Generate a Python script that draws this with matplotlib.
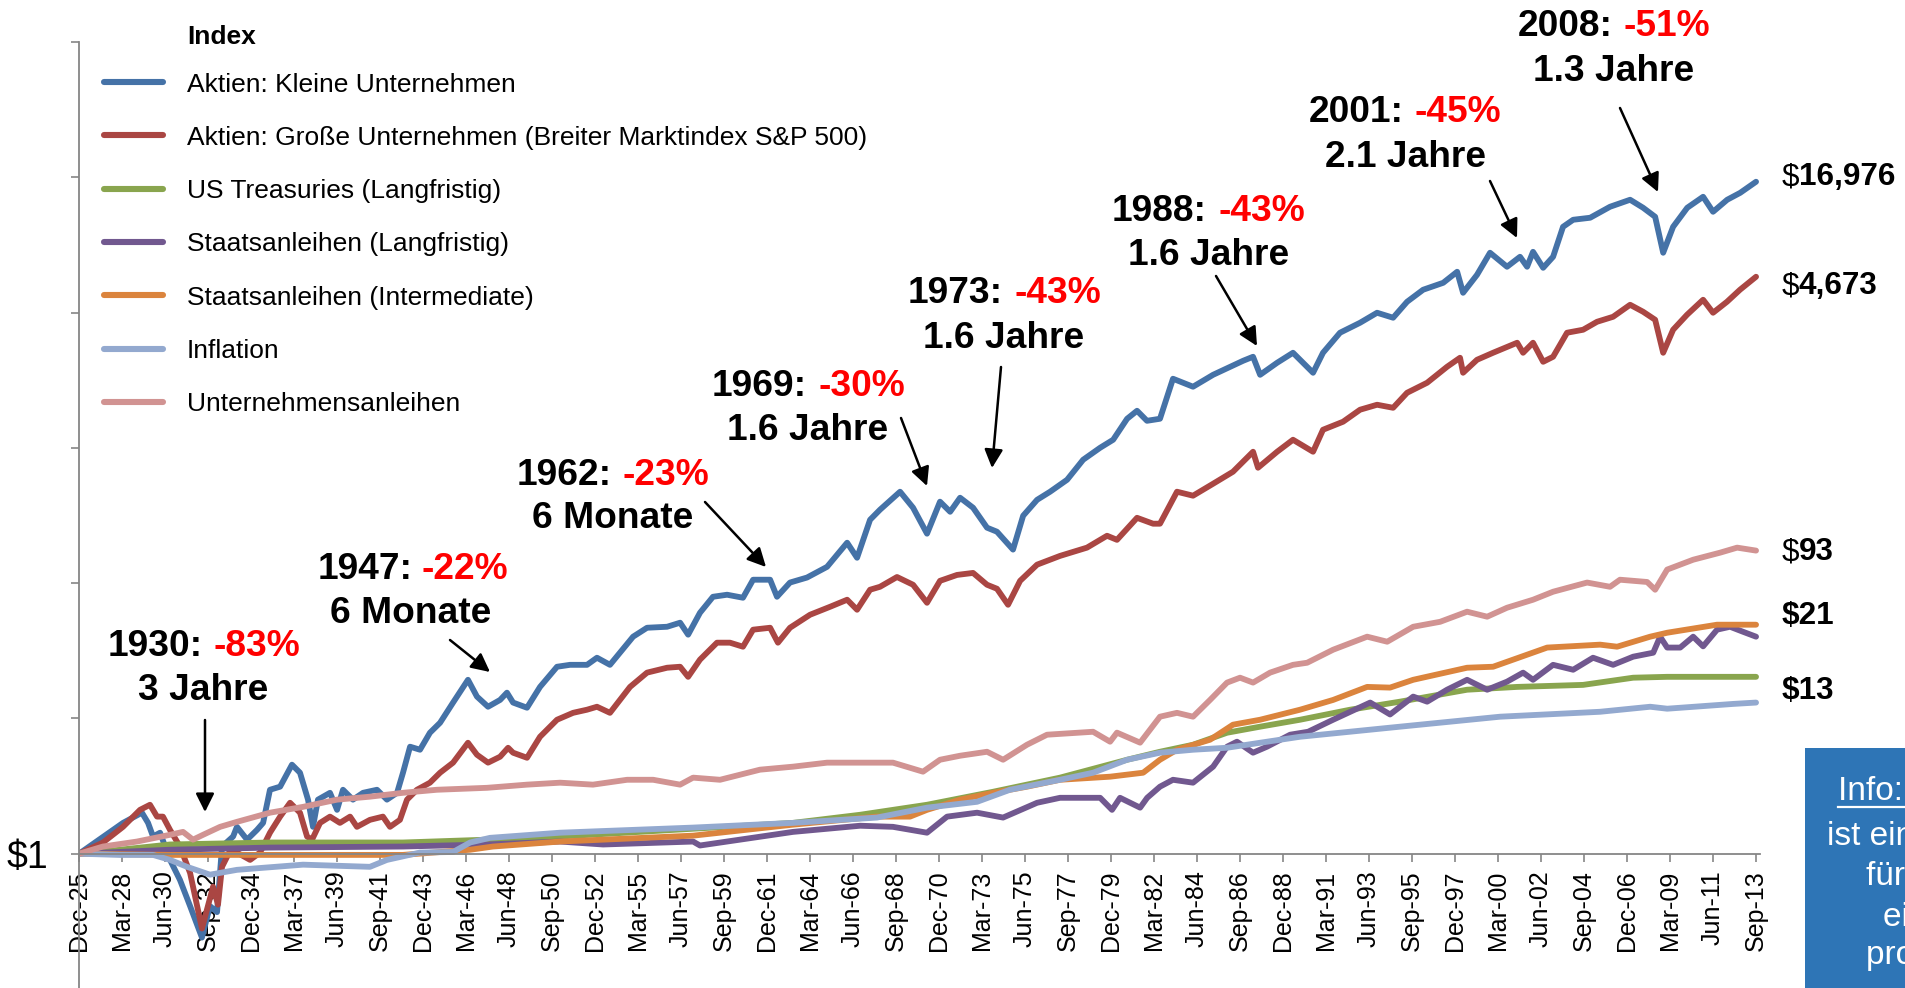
import matplotlib
matplotlib.use("Agg")
import matplotlib.pyplot as plt
from matplotlib.lines import Line2D
from matplotlib.patches import Rectangle, FancyArrowPatch
import matplotlib.ticker as mticker

plt.rcParams['font.family'] = ['Liberation Sans', 'DejaVu Sans']

W, H = 1906, 988

# ---------------- data (decimal year, growth of $1) ----------------
small_caps = [(1925.92, 1.00), (1928.22, 1.69), (1929.21, 2.01), (1929.53, 1.69), (1929.79, 1.34),
    (1930.16, 1.43), (1930.68, 0.90), (1931.20, 0.64), (1931.73, 0.41), (1932.35, 0.24), (1932.77, 0.41),
    (1933.14, 0.37), (1933.40, 1.13), (1933.98, 1.34), (1934.18, 1.58), (1934.71, 1.27), (1935.23, 1.50),
    (1935.55, 1.69), (1935.91, 2.97), (1936.44, 3.13), (1937.06, 4.55), (1937.48, 3.97), (1937.90, 2.51),
    (1938.16, 1.58), (1938.42, 2.51), (1939.05, 2.82), (1939.42, 2.11), (1939.73, 2.97), (1940.25, 2.51),
    (1940.78, 2.82), (1941.51, 2.97), (1942.03, 2.51), (1942.56, 2.82), (1942.87, 3.97), (1943.24, 6.18),
    (1943.76, 5.87), (1944.28, 7.84), (1944.81, 9.29), (1945.49, 13.1), (1946.27, 19.3), (1946.74, 14.5),
    (1947.32, 12.2), (1947.95, 13.7), (1948.31, 15.5), (1948.63, 13.1), (1949.36, 12.0), (1950.04, 17.1),
    (1950.93, 24.1), (1951.61, 24.9), (1952.50, 24.9), (1953.02, 28.1), (1953.70, 24.9), (1954.91, 40.2),
    (1955.64, 46.8), (1956.69, 47.6), (1957.37, 51.0), (1957.79, 41.6), (1958.41, 60.4), (1959.09, 79.3),
    (1959.83, 82.1), (1960.66, 78.0), (1961.19, 106), (1962.08, 106), (1962.44, 79.3), (1963.12, 101),
    (1964.01, 110), (1965.06, 132), (1966.11, 199), (1966.63, 154), (1967.31, 294), (1967.83, 349),
    (1968.88, 474), (1969.56, 361), (1970.29, 232), (1970.97, 400), (1971.50, 337), (1972.02, 428),
    (1972.70, 361), (1973.43, 257), (1973.95, 240), (1974.79, 177), (1975.32, 315), (1976.05, 413),
    (1976.73, 474), (1977.62, 581), (1978.46, 817), (1979.35, 1002), (1980.03, 1148), (1980.76, 1641),
    (1981.28, 1880), (1981.80, 1585), (1982.48, 1641), (1983.16, 3243), (1984.21, 2831), (1985.26, 3468),
    (1986.15, 3973), (1986.83, 4402), (1987.35, 4714), (1987.72, 3468), (1988.61, 4256), (1989.44, 5046),
    (1990.49, 3590), (1991.01, 5046), (1991.90, 7096), (1992.95, 8410), (1993.84, 9970), (1994.68, 9160),
    (1995.41, 12020), (1996.25, 14750), (1997.30, 16600), (1998.03, 20030), (1998.34, 14000),
    (1999.07, 19020), (1999.75, 27680), (2000.64, 21810), (2001.32, 25850), (2001.69, 21810),
    (2002.00, 28130), (2002.53, 21430), (2003.05, 25850), (2003.57, 43050), (2004.10, 48530),
    (2004.99, 50230), (2006.03, 60560), (2007.08, 68230), (2007.76, 59540), (2008.39, 51060),
    (2008.81, 27680), (2009.33, 43050), (2010.07, 59540), (2010.90, 71780), (2011.42, 55590),
    (2012.16, 68230), (2012.84, 76760), (2013.67, 92700)]

large_caps = [(1925.92, 1.00), (1927.17, 1.21), (1928.22, 1.58), (1929.11, 2.11), (1929.63, 2.30),
    (1930.00, 1.88), (1930.31, 1.88), (1930.68, 1.50), (1931.20, 1.13), (1931.73, 0.72), (1932.35, 0.28),
    (1932.93, 0.57), (1933.19, 0.42), (1933.40, 0.80), (1933.82, 1.05), (1934.18, 1.02), (1934.87, 0.90),
    (1935.39, 1.02), (1935.91, 1.43), (1936.44, 1.88), (1936.96, 2.38), (1937.48, 2.01), (1937.85, 1.34),
    (1938.11, 1.27), (1938.53, 1.69), (1939.05, 1.88), (1939.57, 1.69), (1940.10, 1.88), (1940.46, 1.58),
    (1941.14, 1.78), (1941.82, 1.88), (1942.19, 1.58), (1942.71, 1.78), (1943.08, 2.51), (1943.60, 2.97),
    (1944.28, 3.35), (1944.81, 3.97), (1945.49, 4.71), (1946.27, 6.61), (1946.74, 5.39), (1947.32, 4.71),
    (1947.95, 5.21), (1948.37, 6.07), (1948.63, 5.58), (1949.36, 5.12), (1950.04, 7.32), (1950.93, 9.78),
    (1951.77, 11.0), (1952.50, 11.6), (1953.02, 12.2), (1953.70, 11.0), (1954.75, 17.1), (1955.64, 21.8),
    (1956.69, 23.7), (1957.37, 24.1), (1957.79, 20.3), (1958.41, 27.2), (1959.30, 36.3), (1959.98, 36.3),
    (1960.66, 33.9), (1961.19, 45.3), (1962.08, 46.8), (1962.49, 36.3), (1963.12, 46.8), (1964.17, 58.4),
    (1965.22, 66.9), (1966.11, 75.4), (1966.63, 63.6), (1967.31, 89.4), (1967.83, 94.0), (1968.72, 111),
    (1969.56, 97.3), (1970.29, 71.6), (1970.97, 104), (1971.86, 115), (1972.70, 119), (1973.43, 97.3),
    (1973.95, 90.9), (1974.53, 69.2), (1975.16, 104), (1976.05, 137), (1977.25, 159), (1978.66, 183),
    (1979.71, 224), (1980.23, 209), (1981.28, 304), (1982.12, 275), (1982.48, 275), (1983.37, 474),
    (1984.21, 443), (1985.26, 543), (1986.30, 666), (1987.35, 936), (1987.61, 713), (1988.61, 936),
    (1989.44, 1148), (1990.49, 936), (1991.01, 1361), (1992.06, 1560), (1992.95, 1914), (1993.84, 2083),
    (1994.68, 1978), (1995.41, 2554), (1996.46, 3030), (1997.50, 3973), (1998.18, 4634), (1998.34, 3590),
    (1999.07, 4478), (1999.91, 5046), (2001.17, 5984), (2001.48, 5046), (2002.00, 5984), (2002.53, 4327),
    (2003.05, 4714), (2003.78, 7096), (2004.62, 7466), (2005.35, 8550), (2006.19, 9310), (2007.08, 11420),
    (2007.76, 10140), (2008.39, 8850), (2008.81, 5046), (2009.33, 7466), (2010.06, 9640), (2010.90, 12440),
    (2011.42, 9970), (2012.15, 12020), (2012.83, 14750), (2013.67, 18400)]

treasuries = [(1925.92, 1.00), (1928.06, 1.07), (1930.68, 1.17), (1935.91, 1.21), (1942.87, 1.21),
    (1947.27, 1.27), (1951.09, 1.34), (1958.05, 1.53), (1963.28, 1.69), (1966.79, 1.94), (1970.29, 2.30),
    (1973.75, 2.87), (1977.25, 3.65), (1980.76, 4.95), (1982.48, 5.67), (1984.21, 6.39), (1985.99, 7.84),
    (1987.72, 8.69), (1989.81, 9.78), (1992.43, 11.6), (1995.04, 13.3), (1998.55, 16.3), (2001.17, 17.1),
    (2004.62, 17.7), (2007.24, 20.0), (2009.02, 20.3), (2013.67, 20.3)]

govt_long = [(1925.92, 1.00), (1930.68, 1.07), (1935.91, 1.11), (1942.87, 1.13), (1947.27, 1.17),
    (1951.09, 1.23), (1953.34, 1.17), (1958.05, 1.23), (1958.41, 1.15), (1963.28, 1.45), (1966.79, 1.61),
    (1968.51, 1.58), (1970.29, 1.43), (1971.34, 1.88), (1972.91, 2.01), (1974.27, 1.85), (1976.05, 2.38),
    (1977.25, 2.59), (1979.35, 2.59), (1979.97, 2.11), (1980.39, 2.59), (1981.44, 2.19), (1981.81, 2.59),
    (1982.48, 3.13), (1983.16, 3.52), (1984.21, 3.35), (1985.26, 4.40), (1985.99, 6.18), (1986.51, 6.73),
    (1987.35, 5.58), (1988.08, 6.18), (1989.29, 7.58), (1990.23, 7.97), (1991.54, 9.78), (1993.48, 13.1),
    (1994.52, 10.7), (1995.73, 14.5), (1996.46, 13.3), (1997.50, 16.3), (1998.55, 19.3), (1999.60, 16.3),
    (2000.64, 18.7), (2001.48, 21.8), (2002.00, 19.3), (2003.05, 24.9), (2004.10, 22.9), (2005.14, 28.1),
    (2006.19, 24.9), (2007.24, 28.6), (2008.29, 30.6), (2008.65, 40.2), (2009.02, 33.4), (2009.70, 33.4),
    (2010.38, 40.2), (2010.90, 34.1), (2011.63, 45.3), (2012.31, 47.6), (2012.99, 43.7), (2013.67, 40.2)]

govt_intermediate = [(1925.92, 1.00), (1930.68, 0.98), (1935.91, 0.98), (1942.87, 0.98), (1946.38, 1.07),
    (1947.58, 1.13), (1951.09, 1.23), (1958.05, 1.36), (1963.28, 1.64), (1967.67, 1.88), (1969.40, 1.88),
    (1970.29, 2.11), (1972.02, 2.51), (1973.75, 2.82), (1975.52, 3.13), (1977.25, 3.52), (1979.87, 3.71),
    (1981.60, 3.97), (1982.48, 4.95), (1983.37, 5.87), (1985.10, 6.96), (1986.30, 8.99), (1987.72, 9.78),
    (1989.81, 11.6), (1991.54, 13.7), (1993.32, 17.1), (1994.52, 16.9), (1995.73, 19.3), (1998.55, 23.7),
    (1999.91, 24.1), (2000.96, 27.2), (2002.74, 33.4), (2005.51, 35.1), (2006.40, 33.9), (2008.13, 40.2),
    (2009.02, 43.0), (2011.63, 49.3), (2013.67, 49.3)]

inflation = [(1925.92, 1.00), (1928.06, 0.98), (1929.79, 0.98), (1930.68, 0.90), (1931.57, 0.80),
    (1932.77, 0.70), (1934.18, 0.76), (1937.64, 0.83), (1941.14, 0.80), (1942.03, 0.90), (1943.76, 1.02),
    (1945.49, 1.03), (1946.38, 1.21), (1947.42, 1.31), (1951.09, 1.43), (1958.05, 1.56), (1963.28, 1.69),
    (1967.67, 1.85), (1970.29, 2.19), (1972.91, 2.42), (1974.63, 2.97), (1977.25, 3.52), (1978.98, 3.97),
    (1980.76, 4.95), (1982.48, 5.58), (1984.21, 5.87), (1985.99, 6.07), (1987.72, 6.61), (1989.81, 7.32),
    (1995.04, 8.69), (2000.28, 10.3), (2005.51, 11.2), (2008.13, 12.2), (2009.02, 11.8), (2012.47, 12.8),
    (2013.67, 13.1)]

corporate = [(1925.92, 1.00), (1927.17, 1.13), (1928.95, 1.23), (1930.68, 1.38), (1931.36, 1.45),
    (1931.88, 1.27), (1932.41, 1.38), (1933.30, 1.58), (1934.18, 1.72), (1935.91, 2.01), (1937.64, 2.22),
    (1939.42, 2.51), (1941.14, 2.64), (1942.87, 2.82), (1944.65, 2.97), (1947.27, 3.07), (1949.36, 3.24),
    (1951.09, 3.35), (1952.81, 3.24), (1954.60, 3.52), (1955.96, 3.52), (1957.37, 3.24), (1958.05, 3.65),
    (1959.46, 3.52), (1961.55, 4.18), (1963.28, 4.40), (1965.06, 4.71), (1966.79, 4.71), (1968.51, 4.71),
    (1970.08, 4.04), (1970.97, 4.95), (1972.02, 5.30), (1973.43, 5.67), (1974.27, 4.95), (1975.52, 6.39),
    (1976.57, 7.58), (1978.98, 7.97), (1979.87, 6.73), (1980.23, 7.85), (1981.44, 6.62), (1982.48, 10.3),
    (1983.37, 11.0), (1984.21, 10.3), (1985.10, 13.7), (1985.99, 18.4), (1986.67, 20.0), (1987.35, 18.4),
    (1988.24, 21.8), (1989.44, 24.9), (1990.18, 25.8), (1991.54, 32.2), (1993.32, 40.2), (1994.37, 36.9),
    (1995.73, 47.6), (1997.14, 51.8), (1998.55, 61.5), (1999.60, 56.5), (2000.64, 65.8), (2002.00, 75.4),
    (2003.05, 86.4), (2004.83, 101), (2006.03, 94.0), (2006.55, 106), (2007.97, 102), (2008.39, 89.4),
    (2009.02, 126), (2010.38, 149), (2011.79, 168), (2012.68, 183), (2013.67, 174)]

series_names = ["Aktien: Kleine Unternehmen",
                "Aktien: Große Unternehmen (Breiter Marktindex S&P 500)",
                "US Treasuries (Langfristig)",
                "Staatsanleihen (Langfristig)",
                "Staatsanleihen (Intermediate)",
                "Inflation",
                "Unternehmensanleihen"]
series_data = [small_caps, large_caps, treasuries, govt_long, govt_intermediate, inflation, corporate]
series_colors = ["#4572A7", "#AA4643", "#89A54E", "#71588F", "#DB843D", "#93A9CF", "#D19392"]

tick_labels = ["Dec-25", "Mar-28", "Jun-30", "Sep-32", "Dec-34", "Mar-37", "Jun-39", "Sep-41", "Dec-43",
               "Mar-46", "Jun-48", "Sep-50", "Dec-52", "Mar-55", "Jun-57", "Sep-59", "Dec-61", "Mar-64",
               "Jun-66", "Sep-68", "Dec-70", "Mar-73", "Jun-75", "Sep-77", "Dec-79", "Mar-82", "Jun-84",
               "Sep-86", "Dec-88", "Mar-91", "Jun-93", "Sep-95", "Dec-97", "Mar-00", "Jun-02", "Sep-04",
               "Dec-06", "Mar-09", "Jun-11", "Sep-13"]

end_labels = [("$", "16,976"), ("$", "4,673"), ("$", "93"), ("", "$21"), ("", "$13")]

crashes = [("1930:", "-83%", "3 Jahre"), ("1947:", "-22%", "6 Monate"), ("1962:", "-23%", "6 Monate"),
           ("1969:", "-30%", "1.6 Jahre"), ("1973:", "-43%", "1.6 Jahre"), ("1988:", "-43%", "1.6 Jahre"),
           ("2001:", "-45%", "2.1 Jahre"), ("2008:", "-51%", "1.3 Jahre")]

# ---------------- layout helpers (pixel positions) ----------------
def fx(x):
    return x / W

def fy(y):
    return 1 - y / H

MONTHS = {"Jan": 0, "Feb": 1, "Mar": 2, "Apr": 3, "May": 4, "Jun": 5, "Jul": 6, "Aug": 7,
          "Sep": 8, "Oct": 9, "Nov": 10, "Dec": 11}

def label_to_year(lbl):
    m, yy = lbl.split("-")
    yy = int(yy)
    year = 1900 + yy if yy >= 25 else 2000 + yy
    return year + MONTHS[m] / 12.0

tick_pos = [label_to_year(l) for l in tick_labels]

fig = plt.figure(figsize=(W / 100, H / 100), dpi=100)
ax = fig.add_axes([fx(79), (H - 989) / H, (1760 - 79) / W, 947 / H])

for data, color in zip(series_data, series_colors):
    xs = [p[0] for p in data]
    ys = [p[1] for p in data]
    ax.plot(xs, ys, color=color, lw=4.2, solid_joinstyle="round", solid_capstyle="round")

ax.set_yscale("log")
ax.set_ylim(0.1, 1e6)
ax.set_xlim(tick_pos[0], tick_pos[-1] + 0.21)

grey = "#868686"
for s in ("top", "right"):
    ax.spines[s].set_visible(False)
ax.spines["left"].set_color(grey)
ax.spines["left"].set_linewidth(1.3)
ax.spines["bottom"].set_color(grey)
ax.spines["bottom"].set_linewidth(1.3)
ax.spines["bottom"].set_position(("data", 1))

ax.set_xticks(tick_pos)
ax.set_xticklabels(tick_labels, rotation=90, fontsize=18)
ax.tick_params(axis="x", direction="out", length=6, width=1.2, color=grey, pad=6)

yt = [10.0 ** k for k in range(-1, 7)]
ax.set_yticks(yt)
ax.set_yticklabels(["\\$1" if v == 1 else "" for v in yt], fontsize=27)
ax.yaxis.set_minor_locator(mticker.NullLocator())
ax.tick_params(axis="y", direction="out", length=6, width=1.2, color=grey, pad=16)

# ---------------- legend (manual, Excel-like) ----------------
fig.text(fx(187), fy(34 + 9.5), "Index", fontsize=19, weight="bold", va="baseline")
for i, (name, color) in enumerate(zip(series_names, series_colors)):
    y = 82 + 53.3 * i
    fig.add_artist(Line2D([fx(104), fx(163)], [fy(y), fy(y)], transform=fig.transFigure,
                          color=color, lw=4.4, solid_capstyle="round"))
    fig.text(fx(187), fy(y + 9.5), name, fontsize=19, va="baseline")

# ---------------- crash annotations ----------------
ann_geom = [  # black_end, red_start, y1, x2, y2, arrow tail, arrow head
    (203, 214, 643, 203, 687, (205, 720), (205, 812)),
    (413, 422, 566, 411, 610, (450, 640), (490, 672)),
    (612, 623, 472, 613, 515, (705, 502), (766, 567)),
    (807, 818, 383, 808, 427, (901, 418), (927, 486)),
    (1003, 1015, 290, 1004, 335, (1001, 367), (992, 468)),
    (1207, 1218, 208, 1209, 252, (1216, 276), (1257, 346)),
    (1404, 1414, 109, 1406, 154, (1490, 181), (1517, 238)),
    (1613, 1624, 23, 1614, 68, (1620, 108), (1658, 192)),
]
AF = 26.7
for (yr, pct, dur), (bx, rx, y1, x2, y2, tail, head) in zip(crashes, ann_geom):
    fig.text(fx(bx), fy(y1 + 13.3), yr, fontsize=AF, weight="bold", ha="right", va="baseline", color="black")
    fig.text(fx(rx), fy(y1 + 13.3), pct, fontsize=AF, weight="bold", ha="left", va="baseline", color="#FF0000")
    fig.text(fx(x2), fy(y2 + 13.3), dur, fontsize=AF, weight="bold", ha="center", va="baseline", color="black")
    fig.add_artist(FancyArrowPatch((fx(tail[0]), fy(tail[1])), (fx(head[0]), fy(head[1])),
                                   transform=fig.transFigure, arrowstyle="-|>", mutation_scale=28,
                                   lw=1.8, color="black", shrinkA=0, shrinkB=0))

# ---------------- end values ----------------
end_y = [174, 283, 549, 613, 688]
LF = 22.7
for (dollar, num), y in zip(end_labels, end_y):
    if dollar:
        fig.text(fx(1782), fy(y + 11.3), "\\$", fontsize=LF, va="baseline")
        fig.text(fx(1799), fy(y + 11.3), num, fontsize=LF, weight="bold", va="baseline")
    else:
        fig.text(fx(1782), fy(y + 11.3), num.replace("$", "\\$"), fontsize=LF, weight="bold", va="baseline")

# ---------------- info box (cut off at the right edge, as in the original) ----------------
fig.add_artist(Rectangle((fx(1805), fy(990)), fx(200), 242 / H, transform=fig.transFigure,
                         facecolor="#2E75B6", edgecolor="none"))
info_lines = [("Info: Der Index", 1838, 800), ("ist ein Maßstab", 1827, 845), ("für die Wertentwicklung", 1866, 885),
              ("eines Marktes", 1883, 926), ("pro Zeitraum", 1866, 964)]
for txt, x, yb in info_lines:
    fig.text(fx(x), fy(yb), txt, fontsize=24, color="white", va="baseline")
fig.add_artist(Line2D([fx(1838), fx(1910)], [fy(807), fy(807)], transform=fig.transFigure,
                      color="white", lw=1.6))

fig.savefig("out.png", dpi=100)
